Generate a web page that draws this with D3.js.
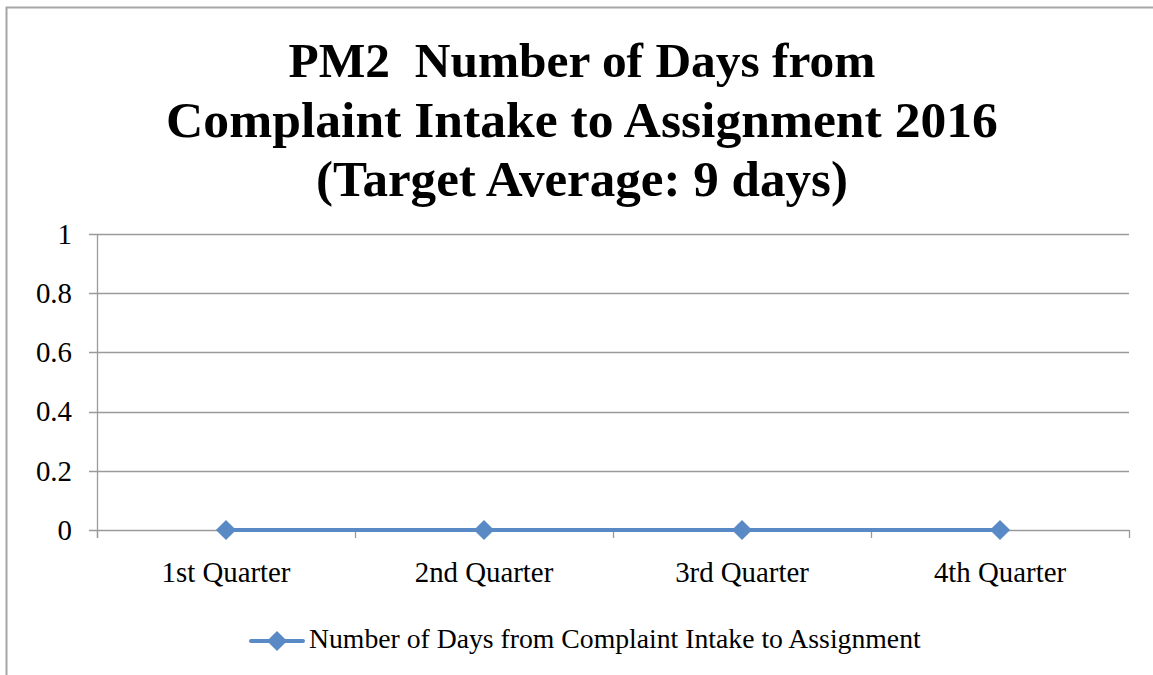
<!DOCTYPE html>
<html>
<head>
<meta charset="utf-8">
<script src="https://cdn.jsdelivr.net/npm/d3@7"></script>
<style>
  body { margin: 0; background: #fff; }
  svg { display: block; }
  text { font-family: "Liberation Serif", "DejaVu Serif", serif; fill: #000; }
</style>
</head>
<body>
<svg></svg>
<script>
// chart data
const quarters = ["1st Quarter", "2nd Quarter", "3rd Quarter", "4th Quarter"];
const daysValues = [0, 0, 0, 0];
const yTicks = [0, 0.2, 0.4, 0.6, 0.8, 1];
const titleLines = ["PM2  Number of Days from", "Complaint Intake to Assignment 2016", "(Target Average: 9 days)"];
const seriesName = "Number of Days from Complaint Intake to Assignment";

const width = 1153, height = 675;
const svg = d3.select("svg").attr("width", width).attr("height", height);

const lineColor = "#5a8ac6";
const gridColor = "#9a9a9a";

// font size that makes a sample string hit a given width
function fitSize(sample, targetW, weight) {
    const t = svg.append("text").attr("font-size", 20).attr("font-weight", weight || "normal")
        .attr("xml:space", "preserve").text(sample);
    const w = t.node().getComputedTextLength();
    t.remove();
    return 20 * targetW / w;
}

// outer chart border (only left + top visible in the crop)
svg.append("path")
    .attr("d", "M6.5,675 L6.5,7.5 L1153,7.5")
    .attr("fill", "none")
    .attr("stroke", "#a6a6a6")
    .attr("stroke-width", 2);

// title, each line sized to a target width
const titleBase = [77, 137, 196];
const titleWidth = [587, 832, 532];
titleLines.forEach((t, i) => {
    svg.append("text")
        .attr("x", 582)
        .attr("y", titleBase[i])
        .attr("text-anchor", "middle")
        .attr("font-weight", "bold")
        .attr("font-size", fitSize(t, titleWidth[i], "bold"))
        .attr("xml:space", "preserve")
        .text(t);
});

const margin = {left: 97, right: 1129, top: 234, bottom: 530};

const x = d3.scaleBand().domain(quarters).range([margin.left, margin.right]).padding(0);
const y = d3.scaleLinear().domain([0, 1]).range([margin.bottom, margin.top]);

// horizontal gridlines
svg.append("g")
    .selectAll("line")
    .data(yTicks)
    .join("line")
    .attr("x1", margin.left - 8)
    .attr("x2", margin.right)
    .attr("y1", d => Math.round(y(d)) + 0.5)
    .attr("y2", d => Math.round(y(d)) + 0.5)
    .attr("stroke", gridColor)
    .attr("stroke-width", 1.3);

// y axis line
svg.append("line")
    .attr("x1", margin.left + 0.5).attr("x2", margin.left + 0.5)
    .attr("y1", margin.top).attr("y2", margin.bottom + 8)
    .attr("stroke", gridColor)
    .attr("stroke-width", 1.3);

// x axis ticks at band edges
const edges = quarters.map(q => x(q)).concat([x(quarters[quarters.length - 1]) + x.bandwidth()]);
svg.append("g")
    .selectAll("line")
    .data(edges)
    .join("line")
    .attr("x1", d => Math.round(d) + 0.5)
    .attr("x2", d => Math.round(d) + 0.5)
    .attr("y1", margin.bottom)
    .attr("y2", margin.bottom + 8)
    .attr("stroke", gridColor)
    .attr("stroke-width", 1.3);

// x tick labels
const xSize = fitSize(quarters[0], 129);
svg.append("g")
    .selectAll("text")
    .data(quarters)
    .join("text")
    .attr("x", d => x(d) + x.bandwidth() / 2)
    .attr("y", 582)
    .attr("text-anchor", "middle")
    .attr("font-size", xSize)
    .text(d => d);

// y tick labels
const ySize = xSize;
svg.append("g")
    .selectAll("text")
    .data(yTicks)
    .join("text")
    .attr("x", 72)
    .attr("y", d => y(d) + ySize * 0.34)
    .attr("text-anchor", "end")
    .attr("font-size", ySize)
    .text(d => d3.format("")(d));

// series line
const pts = quarters.map((q, i) => ({q, v: daysValues[i]}));
const line = d3.line()
    .x(d => x(d.q) + x.bandwidth() / 2)
    .y(d => y(d.v));

svg.append("path")
    .datum(pts)
    .attr("d", line)
    .attr("fill", "none")
    .attr("stroke", lineColor)
    .attr("stroke-width", 4)
    .attr("stroke-linecap", "round");

const diamond = d3.symbol().type(d3.symbolDiamond2).size(260);
svg.append("g")
    .selectAll("path")
    .data(pts)
    .join("path")
    .attr("transform", d => `translate(${x(d.q) + x.bandwidth() / 2},${y(d.v)})`)
    .attr("d", diamond)
    .attr("fill", lineColor);

// legend
const lg = svg.append("g").attr("transform", "translate(0,641)");
lg.append("line")
    .attr("x1", 251).attr("x2", 303)
    .attr("stroke", lineColor)
    .attr("stroke-width", 4)
    .attr("stroke-linecap", "round");
lg.append("path")
    .attr("transform", "translate(277,0)")
    .attr("d", diamond)
    .attr("fill", lineColor);
lg.append("text")
    .attr("x", 309)
    .attr("y", 7)
    .attr("font-size", fitSize(seriesName, 612))
    .text(seriesName);
</script>
</body>
</html>
